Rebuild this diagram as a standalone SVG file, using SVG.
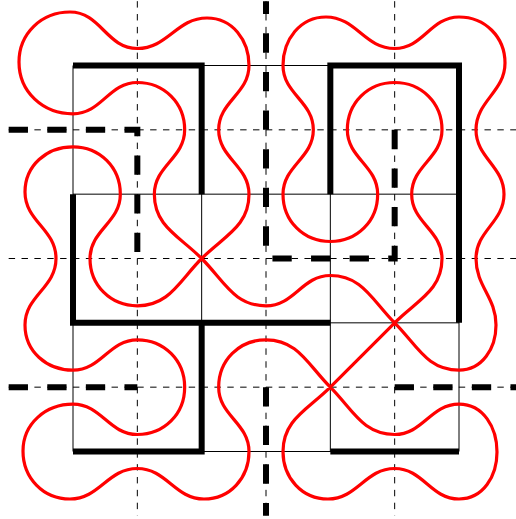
<svg xmlns="http://www.w3.org/2000/svg" width="516" height="519" viewBox="0 0 516 519">
<style>
.thin{fill:none;stroke:#000;stroke-width:1}
.tdash{fill:none;stroke:#000;stroke-width:1;stroke-dasharray:6.43 6.43}
.thick{fill:none;stroke:#000;stroke-width:6;stroke-linecap:butt;stroke-linejoin:miter}
.kdash{fill:none;stroke:#000;stroke-width:6;stroke-dasharray:19.3 19.3;stroke-linecap:butt;stroke-linejoin:miter}
.curve{fill:none;stroke:#ff0000;stroke-width:3.2;stroke-linejoin:round}
</style>
<rect width="516" height="519" fill="#fff"/>
<g id="grid">
<path class="thin" d="M73,65.5V451.5M201.67,65.5V451.5M330.33,65.5V451.5M459,65.5V451.5M73,65.5H459M73,194.17H459M73,322.83H459M73,451.5H459"/>
</g>
<g id="dual-grid">
<path class="tdash" d="M137.33,1.17V515.83M266,1.17V515.83M394.67,1.17V515.83M8.67,129.83H523.33M8.67,258.5H523.33M8.67,387.17H523.33"/>
</g>
<g id="mirrors">
<path class="thick" d="M73,65.5H201.67V194.17"/>
<path class="thick" d="M73,194.17V322.83H330.33"/>
<path class="thick" d="M201.67,322.83V451.5H73"/>
<path class="thick" d="M330.33,194.17V65.5H459V322.83"/>
<path class="thick" d="M330.33,451.5H459"/>
<path class="kdash" d="M8.67,129.83H137.33V258.5"/>
<path class="kdash" d="M394.67,129.83V258.5H266V1.17"/>
<path class="kdash" d="M8.67,387.17H137.33"/>
<path class="kdash" d="M266,387.17V515.83"/>
<path class="kdash" d="M394.67,387.17H523.33"/>
</g>
<g id="curve">
<path class="curve" d="M137.33,82.5
C164.1,82.5 184.67,103 184.67,129.83
C184.67,158.2 154.33,165.8 154.33,194.17
C154.33,226.2 179.1,235.9 201.67,258.5
C224.3,281.1 234,305.83 266,305.83
C294.4,305.83 301.9,275.5 330.33,275.5
C362.3,275.5 372.1,300.2 394.67,322.83
C417.3,345.5 427,370.17 459,370.17
C482.3,370.17 496,348.3 496,325
C496,297.2 476,286.3 476,258.5
C476,230.5 504,222.2 504,194.17
C504,166.2 476,157.8 476,129.83
C476,100.8 505,92 505,63
C505,37 485,17 459,17
C430.4,17 423.3,48.5 394.67,48.5
C364.5,48.5 356.2,17 326,17
C300.1,17 283,39.6 283,65.5
C283,93.9 313.33,101.4 313.33,129.83
C313.33,158.2 283,165.8 283,194.17
C283,221 303.5,241.5 330.33,241.5
C357.1,241.5 377.67,221 377.67,194.17
C377.67,165.8 347.33,158.2 347.33,129.83
C347.33,103 367.9,82.5 394.67,82.5
C421.5,82.5 442,103 442,129.83
C442,158.2 411.67,165.8 411.67,194.17
C411.67,222.6 442,230.1 442,258.5
C442,290.5 417.3,300.2 394.67,322.83
L330.33,387.17
C307.7,409.8 283,419.5 283,451.5
C283,477.7 301.8,499 328,499
C357.3,499 365.4,468.5 394.67,468.5
C423.2,468.5 430.5,499 459,499
C483.2,499 497,476.2 497,452
C497,427.6 483.4,404.17 459,404.17
C430.6,404.17 423.1,434.5 394.67,434.5
C362.7,434.5 352.9,409.8 330.33,387.17
C307.7,364.6 298,339.83 266,339.83
C239.2,339.83 218.67,360.4 218.67,387.17
C218.67,415.6 249,423.1 249,451.5
C249,477.7 230.2,499 204,499
C174.7,499 166.6,468.5 137.33,468.5
C107.7,468.5 99.6,499 70,499
C43.1,499 23,477.9 23,451
C23,423.6 45.6,404.17 73,404.17
C101.4,404.17 108.9,434.5 137.33,434.5
C164.1,434.5 184.67,414 184.67,387.17
C184.67,360.4 164.1,339.83 137.33,339.83
C108.9,339.83 101.4,370.17 73,370.17
C46.6,370.17 25,351.4 25,325
C25,295.6 56,287.9 56,258.5
C56,229.1 25,221.4 25,192
C25,165.6 46.6,146.83 73,146.83
C99.8,146.83 120.33,167.4 120.33,194.17
C120.33,222.6 90,230.1 90,258.5
C90,285.3 110.5,305.83 137.33,305.83
C169.3,305.83 179.1,281.1 201.67,258.5
C224.3,235.9 249,226.2 249,194.17
C249,165.8 218.67,158.2 218.67,129.83
C218.67,101.4 249,93.9 249,65.5
C249,40.1 232.4,18 207,18
C176.6,18 167.7,48.5 137.33,48.5
C106.7,48.5 100.6,12 70,12
C41.4,12 19,33.4 19,62
C19,92 43,113.83 73,113.83
C101.6,113.83 108.7,82.5 137.33,82.5Z"/>
</g>
</svg>
